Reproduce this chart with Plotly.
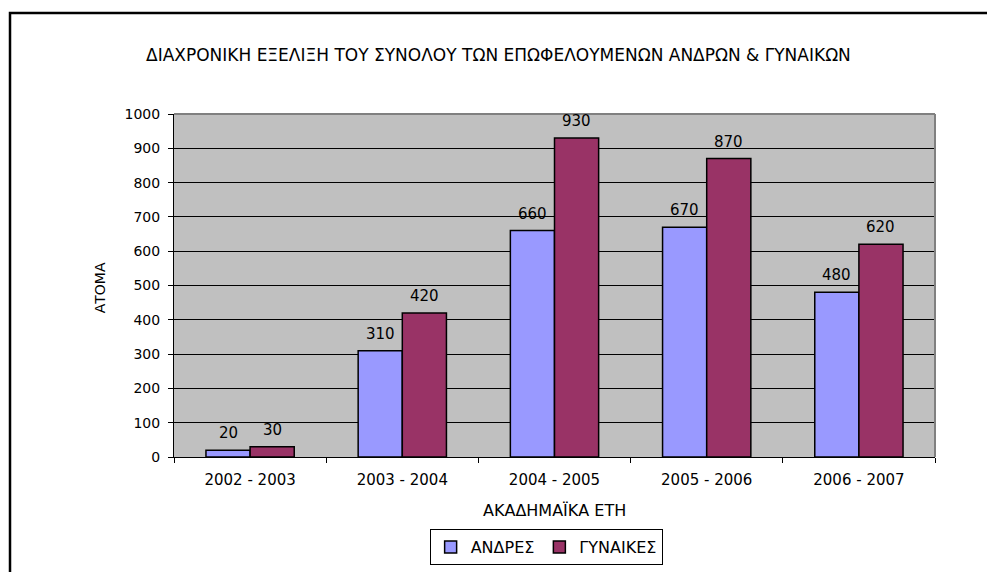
import plotly.graph_objects as go

# ---- data ----
etoi = ["2002 - 2003", "2003 - 2004", "2004 - 2005", "2005 - 2006", "2006 - 2007"]
andres = [20, 310, 660, 670, 480]
gynaikes = [30, 420, 930, 870, 620]
y_ticks = [0, 100, 200, 300, 400, 500, 600, 700, 800, 900, 1000]

FONT = "DejaVu Sans, Arial, sans-serif"
MPLE = "#9999FF"
MOV = "#993366"
BAR_W = 22   # half of a bar width in px, for the value labels

fig = go.Figure()

fig.add_trace(go.Bar(
    x=etoi, y=andres, name="ΑΝΔΡΕΣ",
    marker=dict(color=MPLE, line=dict(color="black", width=1.5)),
))
fig.add_trace(go.Bar(
    x=etoi, y=gynaikes, name="ΓΥΝΑΙΚΕΣ",
    marker=dict(color=MOV, line=dict(color="black", width=1.5)),
))

# value labels above the bars
notes = []
for seira, sh in ((andres, -BAR_W), (gynaikes, BAR_W)):
    for kat, val in zip(etoi, seira):
        notes.append(dict(
            x=kat, y=val, text=str(val), showarrow=False,
            xshift=sh, yshift=17, yanchor="middle",
            font=dict(family=FONT, size=15, color="black"),
        ))

# axis titles
notes.append(dict(
    xref="paper", yref="paper", x=-0.098, y=0.493, text="ΑΤΟΜΑ",
    textangle=-90, showarrow=False, xanchor="center", yanchor="middle",
    font=dict(family=FONT, size=14, color="black"),
))
notes.append(dict(
    xref="paper", yref="paper", x=0.5, y=-0.155, text="ΑΚΑΔΗΜΑΪΚΑ ΕΤΗ",
    showarrow=False, xanchor="center", yanchor="middle",
    font=dict(family=FONT, size=16, color="black"),
))

fig.update_layout(
    width=987, height=572,
    margin=dict(l=174, r=52, t=114, b=115, autoexpand=False),
    paper_bgcolor="white",
    plot_bgcolor="#C0C0C0",
    font=dict(family=FONT, size=14, color="black"),
    title=dict(
        text="ΔΙΑΧΡΟΝΙΚΗ ΕΞΕΛΙΞΗ ΤΟΥ ΣΥΝΟΛΟΥ ΤΩΝ ΕΠΩΦΕΛΟΥΜΕΝΩΝ ΑΝΔΡΩΝ & ΓΥΝΑΙΚΩΝ",
        x=0.505, xanchor="center", y=1 - 55 / 572, yanchor="middle",
        font=dict(family=FONT, size=17, color="black"),
    ),
    barmode="group",
    bargap=0.42,
    bargroupgap=0,
    showlegend=True,
    legend=dict(
        orientation="h",
        x=0.489, xanchor="center",
        yref="container", y=1 - 547 / 572, yanchor="middle",
        bordercolor="black", borderwidth=1,
        font=dict(family=FONT, size=16, color="black"),
        itemwidth=30,
    ),
    annotations=notes,
    shapes=[
        # gray border of the plot area (top, right)
        dict(type="line", xref="paper", yref="paper", x0=0, x1=1, y0=1, y1=1,
             line=dict(color="#808080", width=2)),
        dict(type="line", xref="paper", yref="paper", x0=1, x1=1, y0=0, y1=1,
             line=dict(color="#808080", width=2)),
        # outer chart border
        dict(type="rect", xref="paper", yref="paper",
             x0=-0.2155, x1=1.2, y0=-0.6, y1=1.2945,
             line=dict(color="black", width=2.5)),
    ],
)

fig.update_xaxes(
    type="category",
    showgrid=False,
    showline=True, linecolor="black", linewidth=1,
    ticks="outside", tickson="boundaries", ticklen=5, tickcolor="black",
    ticklabelstandoff=9,
    tickfont=dict(family=FONT, size=15, color="black"),
)
fig.update_yaxes(
    range=[0, 1000],
    tickvals=y_ticks,
    showgrid=True, gridcolor="black", gridwidth=1,
    zeroline=False,
    showline=True, linecolor="black", linewidth=1,
    ticks="outside", ticklen=5, tickcolor="black",
    ticklabelstandoff=5,
    tickfont=dict(family=FONT, size=14, color="black"),
)

fig.write_html(
    "out.html",
    config={"displayModeBar": False},
    post_script="document.body.style.margin='0';",
)
